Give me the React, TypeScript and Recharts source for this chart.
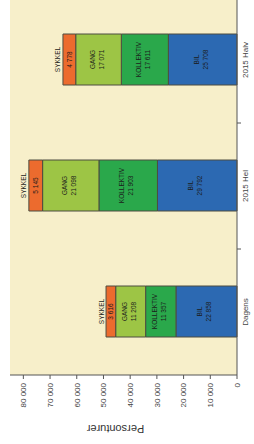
import React from "react";
import { BarChart, Bar, XAxis, YAxis, CartesianGrid, LabelList } from "recharts";

const categories = ["Dagens", "2015 Hel", "2015 Halv"];
const bil = [22858, 29792, 25708];
const kollektiv = [11357, 21903, 17611];
const gang = [11208, 21098, 17071];
const sykkel = [3616, 5145, 4778];
const yTicks = [0, 10000, 20000, 30000, 40000, 50000, 60000, 70000, 80000];

const data = categories.map((name, i) => ({
  name,
  bil: bil[i],
  kollektiv: kollektiv[i],
  gang: gang[i],
  sykkel: sykkel[i],
}));

const FONT = "'Liberation Sans', Arial, sans-serif";
const fmt = (v: number) => String(v).replace(/\B(?=(\d{3})+(?!\d))/g, " ");

// two-line label centred in the segment
const inside = (title: string) => (p: any) => {
  const cx = Number(p.x) + Number(p.width) / 2;
  const cy = Number(p.y) + Number(p.height) / 2;
  return (
    <g fontFamily={FONT} fontSize={6.5} fill="#1b1b1b" textAnchor="middle">
      <text x={cx} y={cy - 6.5} dominantBaseline="central">{title}</text>
      <text x={cx} y={cy + 2.5} dominantBaseline="central">{fmt(Number(p.value))}</text>
    </g>
  );
};

// SYKKEL: name above the bar, value inside the thin segment
const onTop = (p: any) => {
  const cx = Number(p.x) + Number(p.width) / 2;
  const top = Number(p.y);
  return (
    <g fontFamily={FONT} fontSize={6.5} fill="#1b1b1b" textAnchor="middle">
      <text x={cx} y={top - 5} dominantBaseline="central">SYKKEL</text>
      <text x={cx} y={top + Number(p.height) / 2} dominantBaseline="central">{fmt(Number(p.value))}</text>
    </g>
  );
};

const CatTick = (p: any) => {
  const off = p.payload?.offset ?? 63;
  return (
    <g>
      <line x1={p.x + off} x2={p.x + off} y1={p.y - 4} y2={p.y} stroke="#555" />
      <text x={p.x} y={p.y + 7} textAnchor="middle" fontFamily={FONT} fontSize={8} fill="#444">
        {p.payload.value}
      </text>
    </g>
  );
};

const YLabel = (p: any) => {
  const vb = p.viewBox || {};
  const y = vb.y + vb.height / 2 - 8;
  return (
    <text x={15} y={y} transform={`rotate(-90 15 ${y})`} textAnchor="middle"
      dominantBaseline="central" fontFamily={FONT} fontSize={11} fill="#333">
      Personturer
    </text>
  );
};

const stroke = "#4d4d40";

export default function App() {
  return (
    <div style={{
      position: "absolute", left: 0, top: 0, width: 447, height: 254,
      transform: "translate(0px, 444px) rotate(-90deg)", transformOrigin: "0 0",
    }}>
      <BarChart width={447} height={254} data={data}
        margin={{ top: 10, right: 0, bottom: 0, left: 0 }} barSize={51}>
        <CartesianGrid horizontal={false} vertical={false} fill="#f7efca" />
        <XAxis dataKey="name" height={17} tickLine={false} tickSize={4} tickMargin={0}
          axisLine={{ stroke: "#555" }} tick={<CatTick />} interval={0} />
        <YAxis width={69} domain={[0, 85000]} ticks={yTicks} tickFormatter={fmt}
          tickSize={4} tickMargin={4} axisLine={{ stroke: "#555" }} tickLine={{ stroke: "#555" }}
          tick={{ fontFamily: FONT, fontSize: 8, fill: "#444" }} label={<YLabel />} />
        <Bar dataKey="bil" stackId="a" fill="#2c69b2" stroke={stroke} isAnimationActive={false}>
          <LabelList dataKey="bil" content={inside("BIL")} />
        </Bar>
        <Bar dataKey="kollektiv" stackId="a" fill="#2aa84b" stroke={stroke} isAnimationActive={false}>
          <LabelList dataKey="kollektiv" content={inside("KOLLEKTIV")} />
        </Bar>
        <Bar dataKey="gang" stackId="a" fill="#9dc545" stroke={stroke} isAnimationActive={false}>
          <LabelList dataKey="gang" content={inside("GANG")} />
        </Bar>
        <Bar dataKey="sykkel" stackId="a" fill="#ec6b2e" stroke={stroke} isAnimationActive={false}>
          <LabelList dataKey="sykkel" content={onTop} />
        </Bar>
      </BarChart>
    </div>
  );
}
